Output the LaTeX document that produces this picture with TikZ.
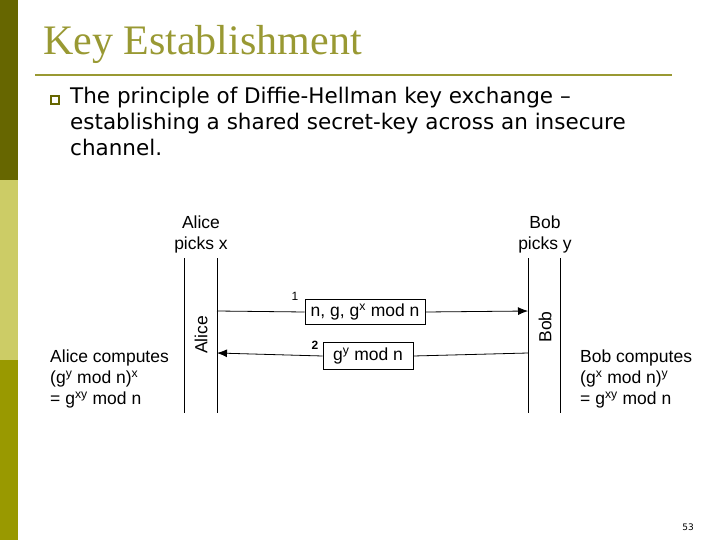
\documentclass[tikz,border=0pt]{standalone}
\usepackage{fontspec}
\setmainfont{Liberation Serif}
\newfontfamily\tah{DejaVu Sans}
\newfontfamily\ari{Liberation Sans}
\definecolor{oliveA}{HTML}{666600}
\definecolor{oliveB}{HTML}{CCCC66}
\definecolor{oliveC}{HTML}{999900}
\definecolor{titleC}{HTML}{999933}
\newcommand{\sps}[1]{\textsuperscript{#1}}
\tikzset{lbl/.style={font=\ari\fontsize{17.5}{21}\selectfont, inner sep=0pt},
 msg/.style={draw, line width=0.8pt, font=\ari\fontsize{17.5}{21}\selectfont, inner sep=0pt},
 life/.style={line width=0.6pt},
 arr/.style={line width=0.8pt, -{Latex[length=10pt,width=8pt]}}}
\usetikzlibrary{arrows.meta}
\begin{document}
\begin{tikzpicture}[x=1pt,y=-1pt]
\useasboundingbox (0,0) rectangle (720,540);
\fill[white] (0,0) rectangle (720,540);
\fill[oliveA] (0,0) rectangle (18,180);
\fill[oliveB] (0,180) rectangle (18,360);
\fill[oliveC] (0,360) rectangle (18,540);
\node[anchor=west, text=titleC, font=\fontsize{42}{44}\selectfont, inner sep=0pt] (title) at (43,44) {Key Establishment};
\draw[titleC, line width=2pt] (35,75) -- (672,75);
\node[draw=oliveA, line width=1.5pt, minimum size=8pt, inner sep=0pt] (bul) at (55,100) {};
\node[anchor=north west, align=left, font=\tah\fontsize{21.5}{26}\selectfont, inner sep=0pt] (txt) at (70,87) {The principle of Diffie-Hellman key exchange –\\establishing a shared secret-key across an insecure\\channel.};
\coordinate (a1t) at (184,258); \coordinate (a1b) at (184,413);
\coordinate (a2t) at (217,258); \coordinate (a2b) at (217,413);
\coordinate (b1t) at (528,258); \coordinate (b1b) at (528,413);
\coordinate (b2t) at (560,258); \coordinate (b2b) at (560,413);
\draw[life] (a1t) -- (a1b); \draw[life] (a2t) -- (a2b);
\draw[life] (b1t) -- (b1b); \draw[life] (b2t) -- (b2b);
\node[lbl, align=center] (alice) at (201,234) {Alice\\picks x};
\node[lbl, align=center] (bob) at (545,234) {Bob\\picks y};
\node[lbl, rotate=90] (an) at (201,335) {Alice};
\node[lbl, rotate=90] (bn) at (545,327) {Bob};
\node[msg, minimum width=120pt, minimum height=25pt] (m1) at (365,312) {n, g, g\sps{x} mod n};
\node[msg, minimum width=90pt, minimum height=27pt] (m2) at (368,356) {g\sps{y} mod n};
\coordinate (s1) at (217,311); \coordinate (e1) at (528,311);
\coordinate (s2) at (528,353); \coordinate (e2) at (217,353);
\draw[line width=0.8pt] (s1) -- (m1.west);
\draw[arr] (m1.east) -- (e1);
\draw[line width=0.8pt] (s2) -- (m2.east);
\draw[arr] (m2.west) -- (e2);
\node[lbl, font=\ari\fontsize{12}{14}\selectfont] (n1) at (295,296) {1};
\node[lbl, font=\ari\bfseries\fontsize{12}{14}\selectfont] (n2) at (315,345) {2};
\node[lbl, anchor=north west, align=left] (ac) at (50,350) {Alice computes\\(g\sps{y} mod n)\sps{x}\\= g\sps{xy} mod n};
\node[lbl, anchor=north west, align=left] (bc) at (580,350) {Bob computes\\(g\sps{x} mod n)\sps{y}\\= g\sps{xy} mod n};
\node[font=\tah\fontsize{9}{10}\selectfont, inner sep=0pt] (pg) at (688,527) {53};
\end{tikzpicture}
\end{document}
